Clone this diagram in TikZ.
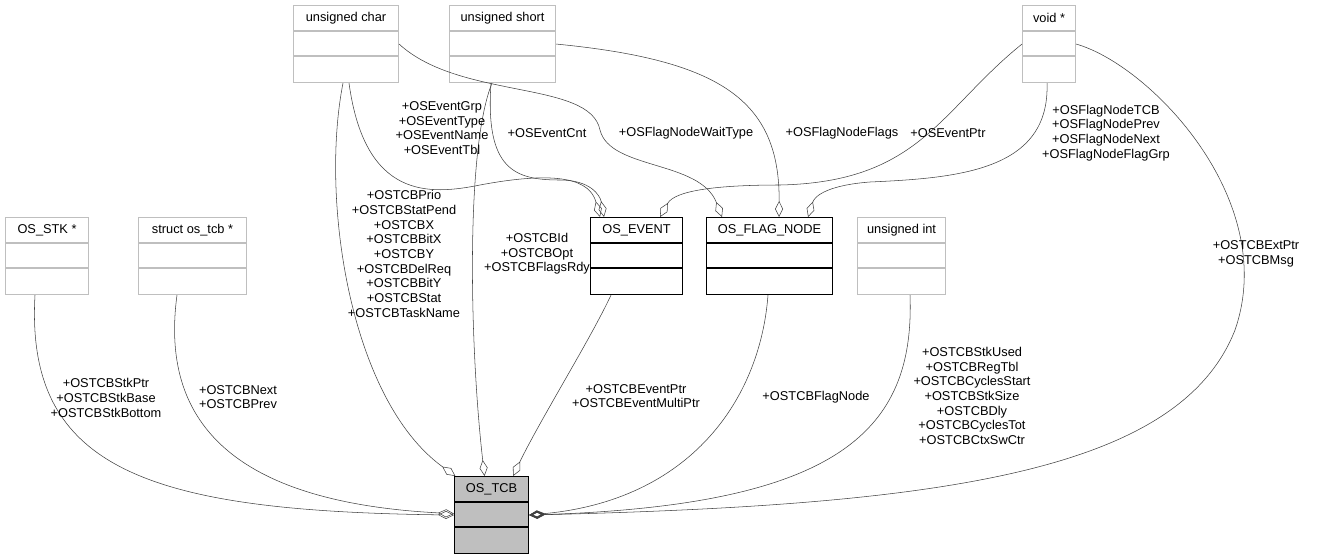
\documentclass[tikz,border=0pt]{standalone}
\usepackage{fontspec}
\setmainfont{Liberation Sans}
\usetikzlibrary{arrows.meta,positioning}
\begin{document}
\begin{tikzpicture}[x=0.75pt, y=-0.75pt,
    lbl/.style={align=center, font=\fontsize{9.6}{11}\selectfont, inner sep=0pt},
    agg/.style={draw=black!75, {Diamond[open,length=12pt,width=6pt]}-},
    aggr/.style={draw=black!75, {Diamond[open,length=12pt,width=6pt,line width=1.2pt]}-},
    title/.style={font=\fontsize{9.6}{11}\selectfont, inner sep=0pt}]
    \tikzset{
        ext/.style={draw=black!25, line width=0.8pt},
        cls/.style={draw=black, line width=0.8pt},
        main/.style={draw=black, fill=black!25, line width=0.8pt}}
    \useasboundingbox (0,0) rectangle (1323,557);
    % class boxes: name, style, x, y, width, text
    \newcommand{\umlbox}[6]{%
        \node[#2, anchor=north west, minimum width=#5*0.75pt, minimum height=77*0.75pt, inner sep=0pt] (#1) at (#3,#4) {};
        \node[title] (#1-t) at ([yshift=-13*0.75pt]#1.north) {#6};
        \draw[#2] ([yshift=-26*0.75pt]#1.north west) -- ([yshift=-26*0.75pt]#1.north east);
        \draw[#2] ([yshift=-51*0.75pt]#1.north west) -- ([yshift=-51*0.75pt]#1.north east);}
    \umlbox{uchar}{ext}{293}{5}{105}{unsigned char}
    \umlbox{ushort}{ext}{449}{5}{106}{unsigned short}
    \umlbox{voidp}{ext}{1022}{5}{53}{void *}
    \umlbox{osstk}{ext}{5}{217}{83}{OS\_STK *}
    \umlbox{ostcbp}{ext}{138}{217}{108}{struct os\_tcb *}
    \umlbox{uint}{ext}{857}{217}{88}{unsigned int}
    \umlbox{event}{cls}{590}{217}{92}{OS\_EVENT}
    \umlbox{flag}{cls}{706}{217}{126}{OS\_FLAG\_NODE}
    \umlbox{tcb}{main}{454}{476}{74}{OS\_TCB}

    % members of OS_TCB
    \draw[agg] (tcb.west) .. controls (150,511) and (25,470) .. (osstk.south -| 35,0);
    \draw[agg] ([yshift=1pt]tcb.west) .. controls (230,502) and (160,420) .. (ostcbp.south -| 177,0);
    \draw[agg] ([xshift=1pt]tcb.north west) .. controls (350,400) and (320,200) .. (uchar.south -| 343,0);
    \draw[agg] ([xshift=-7*0.75pt]tcb.north) .. controls (470,350) and (465,150) .. (ushort.south -| 492,0);
    \draw[agg] ([xshift=-16*0.75pt]tcb.north east) .. controls (540,420) and (590,340) .. (event.south -| 611,0);
    \draw[aggr] (tcb.east) .. controls (690,500) and (760,400) .. (flag.south -| 768,0);
    \draw[aggr] (tcb.east) .. controls (840,505) and (915,430) .. (uint.south -| 910,0);
    \draw[aggr] (tcb.east) .. controls (950,505) and (1180,470) .. (1235,330)
        .. controls (1280,200) and (1150,65) .. (voidp.east);

    % members of OS_EVENT and OS_FLAG_NODE
    \draw[agg] ([xshift=10*0.75pt]event.north west) .. controls (590,180) and (560,170) .. (480,185)
        .. controls (430,195) and (365,200) .. (uchar.south -| 349,0);
    \draw[agg] ([xshift=14*0.75pt]event.north west) .. controls (600,195) and (590,180) .. (560,180)
        .. controls (515,180) and (485,170) .. (ushort.south -| 491,0);
    \draw[agg] ([xshift=-23*0.75pt]event.north east) .. controls (675,190) and (720,185) .. (780,185)
        .. controls (920,182) and (940,110) .. (voidp.west);
    \draw[agg] ([xshift=16*0.75pt]flag.north west) .. controls (700,160) and (610,170) .. (600,130)
        .. controls (590,80) and (460,100) .. (uchar.east);
    \draw[agg] ([xshift=73*0.75pt]flag.north west) .. controls (780,100) and (720,60) .. (ushort.east);
    \draw[agg] ([xshift=-25*0.75pt]flag.north east) .. controls (815,195) and (830,185) .. (870,182)
        .. controls (960,178) and (1050,170) .. (voidp.south -| 1047,0);

    % member labels
    \node[lbl] (l-stk) at (106,398) {+OSTCBStkPtr\\+OSTCBStkBase\\+OSTCBStkBottom};
    \node[lbl] (l-next) at (238,397) {+OSTCBNext\\+OSTCBPrev};
    \node[lbl] (l-uchar) at (404,254) {+OSTCBPrio\\+OSTCBStatPend\\+OSTCBX\\+OSTCBBitX\\+OSTCBY\\+OSTCBDelReq\\+OSTCBBitY\\+OSTCBStat\\+OSTCBTaskName};
    \node[lbl] (l-ushort) at (537,254) {+OSTCBId\\+OSTCBOpt\\+OSTCBFlagsRdy};
    \node[lbl] (l-event) at (636,396) {+OSTCBEventPtr\\+OSTCBEventMultiPtr};
    \node[lbl] (l-flag) at (816,397) {+OSTCBFlagNode};
    \node[lbl] (l-uint) at (972,396) {+OSTCBStkUsed\\+OSTCBRegTbl\\+OSTCBCyclesStart\\+OSTCBStkSize\\+OSTCBDly\\+OSTCBCyclesTot\\+OSTCBCtxSwCtr};
    \node[lbl] (l-void) at (1256,254) {+OSTCBExtPtr\\+OSTCBMsg};
    \node[lbl] (l-grp) at (442,128) {+OSEventGrp\\+OSEventType\\+OSEventName\\+OSEventTbl};
    \node[lbl] (l-cnt) at (547,133) {+OSEventCnt};
    \node[lbl] (l-wait) at (686,133) {+OSFlagNodeWaitType};
    \node[lbl] (l-flags) at (842,133) {+OSFlagNodeFlags};
    \node[lbl] (l-ptr) at (948,133) {+OSEventPtr};
    \node[lbl] (l-node) at (1106,133) {+OSFlagNodeTCB\\+OSFlagNodePrev\\+OSFlagNodeNext\\+OSFlagNodeFlagGrp};
\end{tikzpicture}
\end{document}
